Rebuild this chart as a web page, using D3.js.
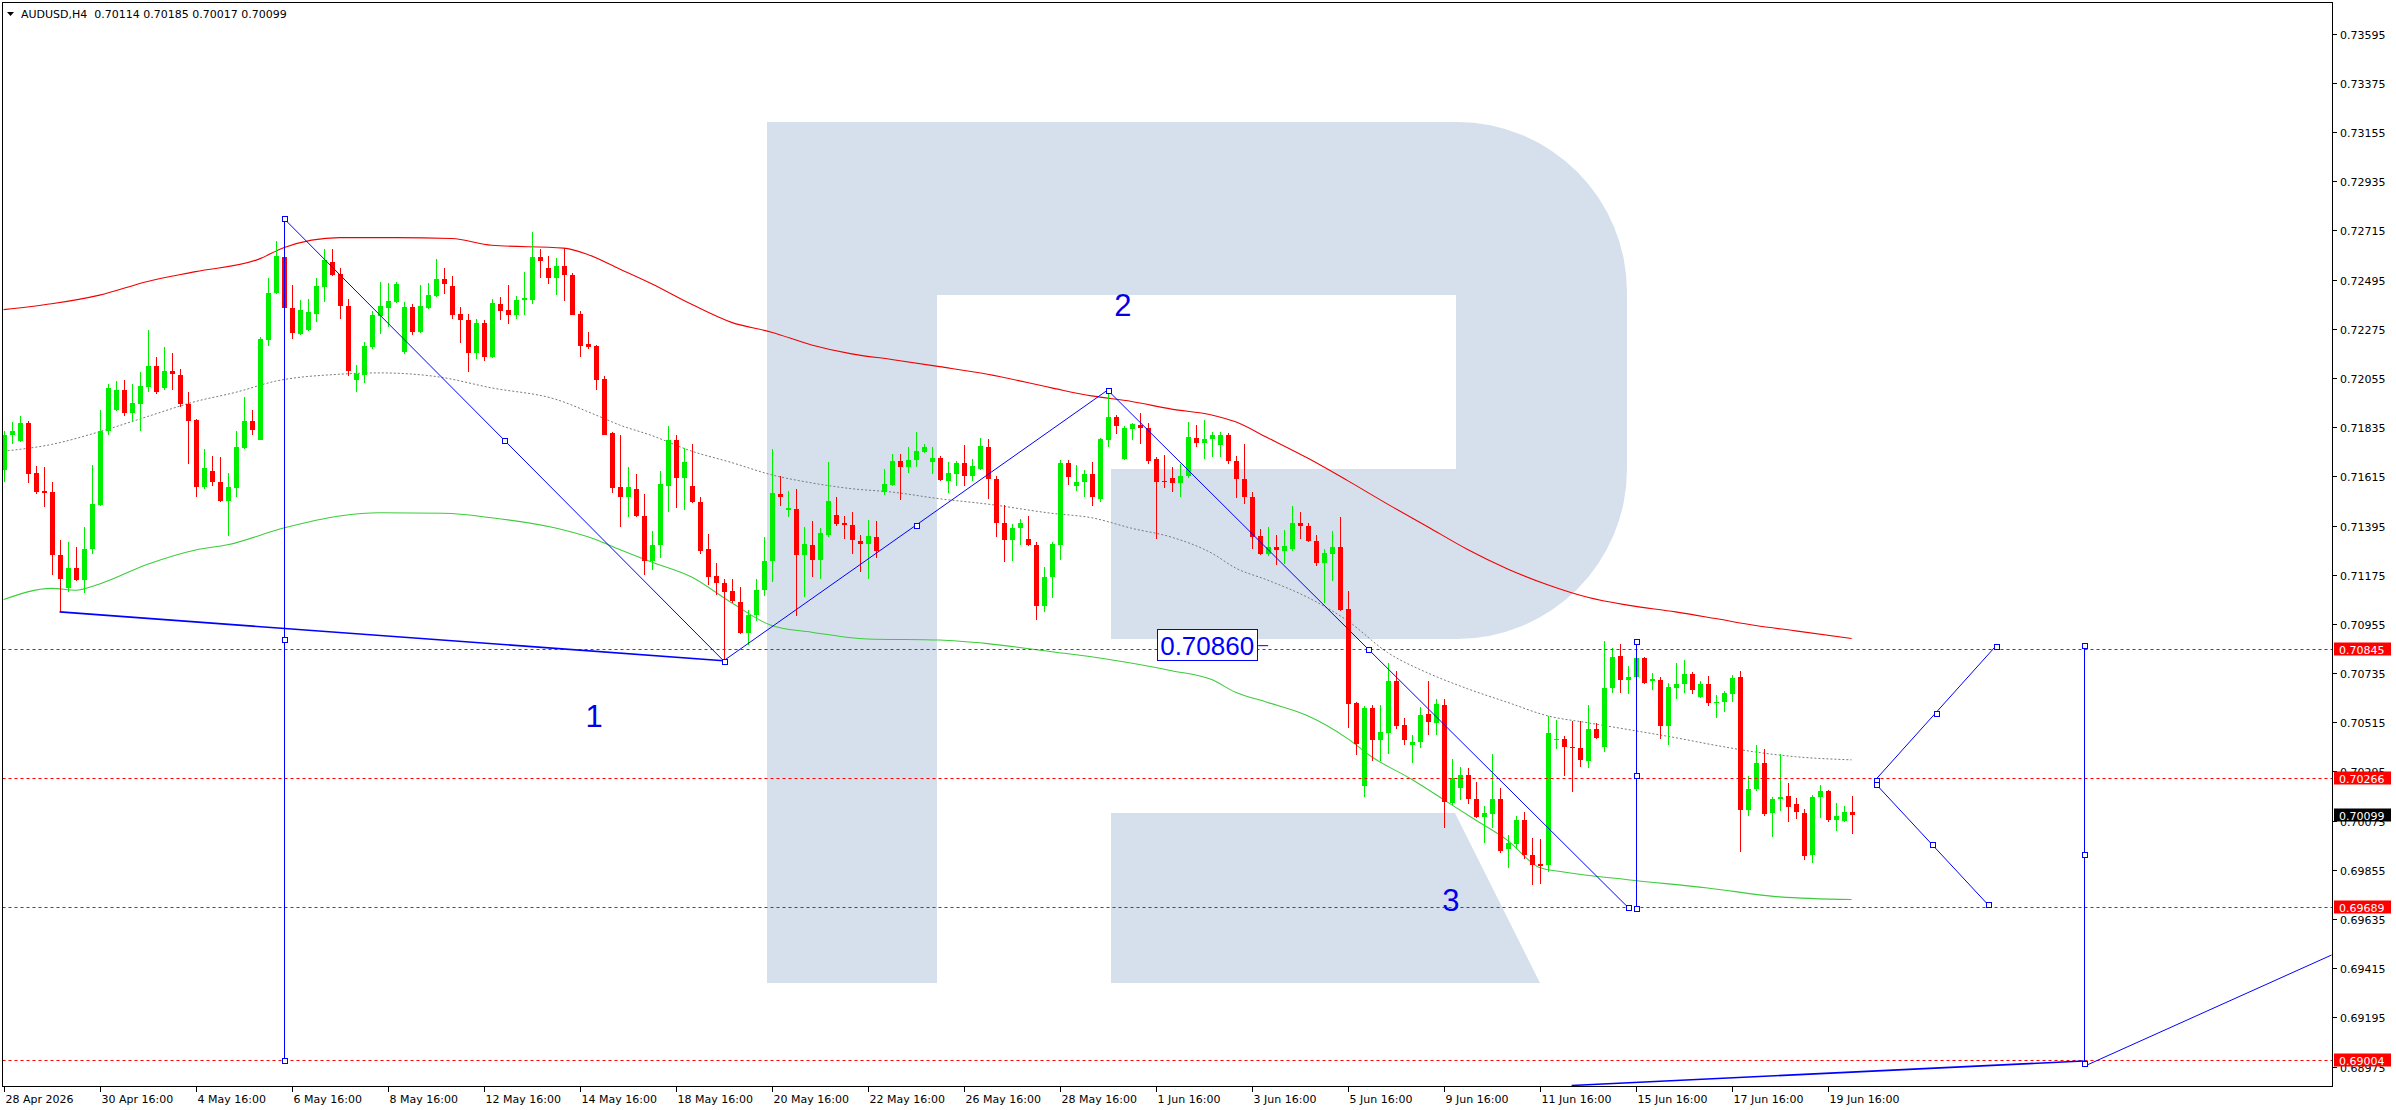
<!DOCTYPE html>
<html><head><meta charset="utf-8">
<script src="https://cdn.jsdelivr.net/npm/d3@7/dist/d3.min.js"></script>
<style>html,body{margin:0;padding:0;background:#fff;overflow:hidden}svg{display:block}</style>
</head><body>
<svg id="c" width="2396" height="1110"></svg>
<script>
// ---------- DATA (AUDUSD H4) ----------
const symbolTitle = "AUDUSD,H4";
const lastBar = ["0.70114","0.70185","0.70017","0.70099"];

const open=[.71643,.71798,.71772,.71855,.71628,.71549,.71545,.71264,.71116,.71207,.71151,.71288,.71489,.71819,.71910,.72001,.71900,.71940,.72017,.72108,.72011,.72086,.72070,.71938,.71867,.71566,.71641,.71590,.71507,.71564,.71744,.71863,.71780,.72226,.72436,.72596,.72367,.72254,.72270,.72343,.72464,.72576,.72519,.72377,.72047,.72068,.72195,.72333,.72367,.72396,.72173,.72371,.72262,.72369,.72422,.72499,.72468,.72341,.72315,.72167,.72300,.72147,.72385,.72359,.72339,.72402,.72406,.72596,.72547,.72503,.72555,.72515,.72341,.72207,.72199,.72051,.71809,.71566,.71521,.71560,.71440,.71238,.71309,.71572,.71778,.71610,.71570,.71501,.71288,.71171,.71139,.71102,.71054,.70916,.70993,.71106,.71238,.71535,.71463,.71471,.71262,.71307,.71242,.71353,.71442,.71408,.71398,.71325,.71313,.71345,.71545,.71576,.71683,.71657,.71687,.71726,.71681,.71697,.71596,.71626,.71677,.71616,.71649,.71746,.71604,.71408,.71329,.71382,.71337,.71309,.71033,.71165,.71309,.71673,.71572,.71592,.71626,.71515,.71778,.71879,.71693,.71829,.71845,.71833,.71693,.71596,.71606,.71586,.71616,.71786,.71764,.71782,.71754,.71802,.71685,.71602,.71523,.71349,.71268,.71298,.71282,.71292,.71408,.71394,.71327,.71228,.71270,.71300,.71023,.70600,.70230,.70580,.70436,.70468,.70699,.70503,.70414,.70426,.70550,.70513,.70594,.70153,.70220,.70280,.70173,.70090,.70106,.70173,.69946,.69971,.70078,.69922,.69880,.69875,.70434,.70442,.70406,.70402,.70341,.70487,.70406,.70669,.70813,.70705,.70716,.70801,.70701,.70705,.70499,.70669,.70685,.70732,.70628,.70685,.70600,.70604,.70641,.70716,.70124,.70216,.70335,.70108,.70173,.70187,.70149,.70108,.69920,.70179,.70209,.70078,.70074,.70114];
const high=[.71819,.71859,.71887,.71863,.71661,.71657,.71590,.71329,.71323,.71300,.71390,.71667,.71910,.72027,.72041,.72045,.72027,.72080,.72270,.72149,.72193,.72167,.72094,.71991,.71873,.71738,.71705,.71701,.71628,.71819,.71970,.71910,.72238,.72501,.72667,.72649,.72470,.72402,.72410,.72501,.72632,.72632,.72547,.72410,.72112,.72217,.72355,.72485,.72481,.72485,.72396,.72385,.72472,.72479,.72588,.72547,.72511,.72371,.72341,.72321,.72315,.72408,.72416,.72472,.72424,.72531,.72707,.72632,.72600,.72592,.72636,.72527,.72357,.72260,.72203,.72064,.71815,.71798,.71657,.71626,.71535,.71369,.71641,.71839,.71802,.71742,.71762,.71523,.71357,.71226,.71155,.71155,.71120,.71019,.71155,.71343,.71738,.71616,.71549,.71560,.71390,.71414,.71384,.71681,.71523,.71440,.71454,.71351,.71418,.71414,.71647,.71717,.71713,.71746,.71813,.71758,.71746,.71707,.71681,.71683,.71754,.71691,.71788,.71784,.71616,.71485,.71404,.71424,.71438,.71323,.71211,.71323,.71687,.71687,.71665,.71643,.71681,.71788,.72001,.71890,.71839,.71855,.71900,.71853,.71703,.71711,.71657,.71671,.71859,.71845,.71869,.71815,.71813,.71807,.71707,.71758,.71543,.71379,.71390,.71353,.71373,.71483,.71454,.71408,.71353,.71292,.71371,.71434,.71104,.70604,.70588,.70594,.70594,.70778,.70746,.70533,.70456,.70584,.70701,.70620,.70618,.70351,.70315,.70309,.70250,.70139,.70371,.70220,.70013,.70098,.70112,.69997,.69991,.70544,.70527,.70452,.70523,.70523,.70594,.70513,.70878,.70847,.70867,.70766,.70884,.70807,.70736,.70716,.70693,.70782,.70792,.70742,.70699,.70722,.70639,.70655,.70726,.70746,.70276,.70412,.70396,.70179,.70371,.70244,.70175,.70128,.70189,.70236,.70214,.70155,.70139,.70185];
const low=[.71592,.71762,.71768,.71586,.71535,.71479,.71175,.71009,.71098,.71145,.71094,.71266,.71483,.71798,.71906,.71887,.71859,.71819,.71991,.71985,.72001,.72001,.71924,.71671,.71525,.71560,.71572,.71501,.71349,.71523,.71738,.71802,.71776,.72199,.72432,.72365,.72230,.72248,.72266,.72304,.72396,.72511,.72319,.72062,.71991,.72031,.72183,.72252,.72284,.72392,.72163,.72248,.72258,.72365,.72416,.72432,.72321,.72211,.72080,.72138,.72132,.72143,.72315,.72298,.72321,.72337,.72385,.72503,.72477,.72426,.72398,.72335,.72151,.72183,.72001,.71798,.71539,.71390,.71434,.71434,.71175,.71195,.71252,.71454,.71475,.71464,.71495,.71268,.71130,.71086,.70790,.71050,.70912,.70861,.70969,.71078,.71141,.71483,.71434,.70989,.71074,.71167,.71155,.71343,.71394,.71337,.71268,.71189,.71155,.71252,.71531,.71572,.71511,.71630,.71657,.71721,.71626,.71596,.71539,.71572,.71572,.71596,.71645,.71515,.71343,.71232,.71236,.71309,.71303,.70973,.71009,.71070,.71242,.71576,.71551,.71523,.71481,.71501,.71748,.71805,.71689,.71778,.71758,.71669,.71333,.71562,.71545,.71521,.71610,.71748,.71693,.71701,.71703,.71671,.71519,.71491,.71292,.71262,.71258,.71220,.71222,.71282,.71337,.71323,.71215,.71050,.71145,.71015,.70489,.70367,.70179,.70341,.70341,.70371,.70483,.70412,.70335,.70402,.70456,.70456,.70042,.70145,.70169,.70149,.70086,.69977,.70044,.69930,.69865,.69950,.69904,.69785,.69791,.69845,.70396,.70276,.70203,.70317,.70311,.70442,.70382,.70645,.70645,.70641,.70711,.70685,.70659,.70442,.70412,.70620,.70645,.70641,.70624,.70588,.70533,.70560,.70604,.69936,.70094,.70209,.70094,.70001,.70118,.70068,.70082,.69900,.69886,.70086,.70068,.70027,.70068,.70017];
const close=[.71798,.71819,.71855,.71624,.71547,.71541,.71262,.71155,.71207,.71151,.71290,.71493,.71819,.72011,.72001,.71900,.71944,.72021,.72108,.71991,.72086,.72072,.71940,.71865,.71566,.71653,.71592,.71507,.71568,.71748,.71863,.71823,.72230,.72436,.72600,.72369,.72258,.72359,.72351,.72466,.72582,.72517,.72375,.72086,.72072,.72199,.72337,.72377,.72400,.72477,.72373,.72260,.72377,.72426,.72499,.72477,.72339,.72313,.72167,.72302,.72147,.72392,.72357,.72339,.72404,.72414,.72596,.72578,.72503,.72555,.72515,.72339,.72199,.72195,.72047,.71802,.71564,.71521,.71566,.71440,.71238,.71309,.71580,.71778,.71610,.71681,.71501,.71282,.71167,.71139,.71100,.71058,.70916,.70993,.71106,.71238,.71541,.71525,.71475,.71262,.71313,.71242,.71363,.71505,.71402,.71396,.71329,.71311,.71349,.71280,.71582,.71683,.71657,.71687,.71730,.71746,.71697,.71600,.71628,.71677,.71616,.71661,.71750,.71602,.71408,.71329,.71386,.71408,.71307,.71033,.71165,.71313,.71673,.71614,.71592,.71626,.71521,.71782,.71879,.71839,.71833,.71849,.71833,.71683,.71592,.71588,.71586,.71616,.71792,.71764,.71782,.71798,.71802,.71683,.71602,.71521,.71343,.71268,.71298,.71286,.71302,.71408,.71394,.71327,.71226,.71272,.71300,.71019,.70598,.70416,.70580,.70436,.70472,.70699,.70499,.70438,.70428,.70548,.70517,.70598,.70159,.70266,.70280,.70173,.70090,.70108,.70173,.69940,.69973,.70078,.69920,.69875,.69873,.70468,.70442,.70406,.70402,.70345,.70487,.70446,.70669,.70807,.70705,.70716,.70801,.70691,.70709,.70499,.70673,.70685,.70730,.70659,.70685,.70600,.70608,.70645,.70711,.70124,.70216,.70335,.70104,.70173,.70183,.70135,.70114,.69916,.70183,.70207,.70078,.70098,.70112,.70099];

// Bollinger-style bands (bar index, value)
const upperIdx=[0,6,12,18,24,32,35,42,49,56,61,70,73,77,81,86,91,96,101,106,111,117,123,131,136,141,146,151,154,158,163,168,173,178,183,188,193,198,203,209,214,219,224,231];
const upperVal=[.72361,.72387,.72426,.72487,.72531,.72588,.72638,.72683,.72683,.72679,.72649,.72636,.72608,.72543,.72477,.72385,.72304,.72260,.72203,.72163,.72138,.72106,.72072,.72011,.71975,.71950,.71916,.71890,.71859,.71788,.71697,.71596,.71491,.71390,.71288,.71201,.71130,.71074,.71039,.71009,.70979,.70948,.70924,.70890];
const middleIdx=[0,6,12,18,24,29,34,42,47,54,61,69,74,77,81,86,91,96,101,106,111,117,123,131,136,141,146,151,154,158,163,168,173,178,183,188,193,198,203,209,214,219,224,231];
const middleVal=[.71728,.71758,.71815,.71883,.71950,.71991,.72041,.72072,.72078,.72062,.72011,.71960,.71890,.71845,.71798,.71728,.71677,.71622,.71586,.71560,.71545,.71515,.71491,.71450,.71430,.71383,.71343,.71272,.71205,.71151,.71074,.70969,.70827,.70736,.70665,.70604,.70544,.70513,.70483,.70446,.70412,.70382,.70361,.70347];
const lowerIdx=[0,6,9,12,18,24,28,35,42,47,55,61,69,74,77,81,86,91,96,101,108,117,123,131,138,146,151,154,158,163,168,171,176,180,184,188,192,195,203,213,222,231];
const lowerVal=[.71064,.71114,.71106,.71134,.71222,.71286,.71309,.71384,.71438,.71452,.71450,.71430,.71384,.71333,.71288,.71232,.71165,.71050,.70948,.70918,.70888,.70883,.70867,.70831,.70797,.70746,.70706,.70649,.70604,.70544,.70442,.70361,.70260,.70169,.70078,.69987,.69865,.69845,.69811,.69774,.69734,.69722];

// Wave drawing objects
const waveIdx=[35,90,138,203];
const wavePrice=[.72770,.70790,.72001,.69689];
const trendA=[[7,.71009],[90,.70790]];
const trendB=[[196,.68890],[260,.69000]];
const trendC=[[260,.68975],[291,.69474]];
const vLines=[[35,.72770,.69004],[204,.70878,.69683],[260,.70859,.68989]];
const projUp=[[234,.70258],[249,.70855]];
const projDown=[[234,.70240],[248,.69701]];
const waveLabels=["1","2","3"];
const waveLabelIdx=[73.8,139.9,180.9];
const waveLabelPrice=[.70543,.72381,.69720];
const priceTag={text:"0.70860", idx:144.2, price:0.70860};

// Levels
const levelPrices=[0.70845,0.70266,0.69689,0.69004];
const levelLabels=["0.70845","0.70266","0.69689","0.69004"];
const currentPrice=0.70099, currentLabel="0.70099";

// Axis tick labels
const yTickLabels=["0.73595","0.73375","0.73155","0.72935","0.72715","0.72495","0.72275","0.72055","0.71835","0.71615","0.71395","0.71175","0.70955","0.70735","0.70515","0.70295","0.70075","0.69855","0.69635","0.69415","0.69195","0.68975"];
const xLabels=["28 Apr 2026","30 Apr 16:00","4 May 16:00","6 May 16:00","8 May 16:00","12 May 16:00","14 May 16:00","18 May 16:00","20 May 16:00","22 May 16:00","26 May 16:00","28 May 16:00","1 Jun 16:00","3 Jun 16:00","5 Jun 16:00","9 Jun 16:00","11 Jun 16:00","15 Jun 16:00","17 Jun 16:00","19 Jun 16:00"];
const barsPerLabel=12;

// ---------- DRAW ----------
const svg=d3.select("#c");
const L=2.5,T=2.5,R=2332.5,B=1086.5;
const x=d3.scaleLinear().domain([0,291]).range([3.6,3.6+8*291]);
const y=d3.scaleLinear().domain([0.68888,0.73734]).range([1086,2.7]);
const FONT="'DejaVu Sans', Verdana, sans-serif";
const BLUE="#0000ff", RED="#ff0000", GREEN="#00ee00";

svg.append("rect").attr("width",2396).attr("height",1110).attr("fill","#fff");
svg.append("defs").append("clipPath").attr("id","plot").append("rect")
  .attr("x",L).attr("y",T).attr("width",R-L).attr("height",B-T);
const g=svg.append("g").attr("clip-path","url(#plot)");

// watermark logo
const wm=g.append("g");
const wmc="#d5e0ec";
const r=170, bx0=767, bx1=1627, by0=122, by1=639;
wm.append("path").attr("fill",wmc).attr("d",
  `M${bx0},${by0}H${bx1-r}A${r},${r} 0 0 1 ${bx1},${by0+r}V${by1-r}A${r},${r} 0 0 1 ${bx1-r},${by1}H937V983H${bx0}Z`);
wm.append("rect").attr("x",937).attr("y",295).attr("width",1456-937).attr("height",469-295).attr("fill","#fff");
wm.append("rect").attr("x",937).attr("y",469).attr("width",1111-937).attr("height",by1-469+0.5).attr("fill","#fff");
wm.append("path").attr("fill",wmc).attr("d","M1111,813H1455L1540,983H1111Z");

// bands
const line=d3.line().x(d=>x(d[0])).y(d=>y(d[1])).curve(d3.curveMonotoneX);
g.append("path").attr("d",line(upperIdx.map((v,i)=>[v,upperVal[i]]))).attr("fill","none").attr("stroke","#f00000").attr("stroke-width",1.1);
g.append("path").attr("d",line(middleIdx.map((v,i)=>[v,middleVal[i]]))).attr("fill","none").attr("stroke","#7a7a7a").attr("stroke-width",1).attr("stroke-dasharray","2,2");
g.append("path").attr("d",line(lowerIdx.map((v,i)=>[v,lowerVal[i]]))).attr("fill","none").attr("stroke","#3ccc3c").attr("stroke-width",1.05);

// candles
const cg=g.append("g").attr("shape-rendering","crispEdges");
open.forEach((o,i)=>{
  const c=close[i], up=c>=o, col=up?GREEN:RED;
  const cx=Math.round(x(i));
  cg.append("line").attr("x1",cx+0.5).attr("x2",cx+0.5).attr("y1",y(high[i])).attr("y2",y(low[i])).attr("stroke",col).attr("stroke-width",1);
  const y1=y(Math.max(o,c)), y2=y(Math.min(o,c));
  cg.append("rect").attr("x",cx-2).attr("width",5).attr("y",y1).attr("height",Math.max(1,y2-y1)).attr("fill",col);
});

// horizontal levels
levelPrices.forEach(p=>{
  g.append("line").attr("x1",L).attr("x2",R).attr("y1",Math.round(y(p))+0.5).attr("y2",Math.round(y(p))+0.5)
   .attr("stroke",RED).attr("stroke-width",1).attr("stroke-dasharray","3,3");
});

// blue objects
const og=g.append("g");
function seg(a,b,w){og.append("line").attr("x1",x(a[0])).attr("y1",y(a[1])).attr("x2",x(b[0])).attr("y2",y(b[1])).attr("stroke",BLUE).attr("stroke-width",w||1);}
const marks=[];
function mark(p){marks.push(p);}
seg(trendA[0],trendA[1],1.6);
seg(trendB[0],trendB[1],1.6);
seg(trendC[0],trendC[1],1);
for(let k=0;k<waveIdx.length-1;k++){
  const a=[waveIdx[k],wavePrice[k]], b=[waveIdx[k+1],wavePrice[k+1]];
  seg(a,b,1); mark(a); mark([(a[0]+b[0])/2,(a[1]+b[1])/2]); mark(b);
}
vLines.forEach(v=>{
  og.append("line").attr("x1",Math.round(x(v[0]))+0.5).attr("x2",Math.round(x(v[0]))+0.5).attr("y1",y(v[1])).attr("y2",y(v[2])).attr("stroke",BLUE).attr("stroke-width",1);
  mark([v[0],v[1]]); mark([v[0],(v[1]+v[2])/2]); mark([v[0],v[2]]);
});
[projUp,projDown].forEach(pr=>{
  seg(pr[0],pr[1],1); mark(pr[0]); mark([(pr[0][0]+pr[1][0])/2,(pr[0][1]+pr[1][1])/2]); mark(pr[1]);
});
marks.forEach(p=>{
  og.append("rect").attr("x",Math.round(x(p[0]))-2).attr("y",Math.round(y(p[1]))-2).attr("width",5).attr("height",5)
    .attr("fill","#fff").attr("stroke",BLUE).attr("stroke-width",1).attr("shape-rendering","crispEdges");
});
// wave labels
waveLabels.forEach((t,k)=>{
  og.append("text").attr("x",x(waveLabelIdx[k])).attr("y",y(waveLabelPrice[k])+11).attr("text-anchor","middle")
   .attr("font-family","'Liberation Sans', Arial, sans-serif").attr("font-size",31).attr("fill","#0000e8").text(t);
});
// price tag 0.70860
{
  const tx=x(priceTag.idx), ty=y(priceTag.price);
  og.append("line").attr("x1",tx+101).attr("x2",tx+111).attr("y1",ty+0.5).attr("y2",ty+0.5).attr("stroke",BLUE);
  og.append("rect").attr("x",Math.round(tx)+0.5).attr("y",Math.round(ty-16)+0.5).attr("width",100).attr("height",31)
    .attr("fill","#fff").attr("stroke",BLUE).attr("stroke-width",1);
  og.append("text").attr("x",tx+3).attr("y",ty+9.5).attr("font-family","'Liberation Sans', Arial, sans-serif")
    .attr("font-size",26).attr("fill",BLUE).text(priceTag.text);
}

// frame
svg.append("rect").attr("x",L).attr("y",T).attr("width",R-L).attr("height",B-T).attr("fill","none").attr("stroke","#000").attr("stroke-width",1).attr("shape-rendering","crispEdges");

// header
svg.append("path").attr("d","M7,12H14L10.5,16Z").attr("fill","#000");
svg.append("text").attr("x",21).attr("y",18).attr("font-family",FONT).attr("font-size",11).attr("fill","#000")
  .style("white-space","pre").text(symbolTitle+"  "+lastBar.join(" "));

// y axis
const ya=svg.append("g");
yTickLabels.forEach(t=>{
  const v=+t, yy=Math.round(y(v))+0.5;
  ya.append("line").attr("x1",R).attr("x2",R+4).attr("y1",yy).attr("y2",yy).attr("stroke","#000").attr("shape-rendering","crispEdges");
  ya.append("text").attr("x",2340).attr("y",yy+4).attr("font-family",FONT).attr("font-size",11).attr("fill","#000").text(t);
});
function tag(p,label,bg){
  const yy=Math.round(y(p));
  ya.append("rect").attr("x",2334).attr("y",yy-6.5).attr("width",57).attr("height",13).attr("fill",bg);
  ya.append("text").attr("x",2339).attr("y",yy+4.5).attr("font-family",FONT).attr("font-size",11).attr("fill","#fff").text(label);
}
levelPrices.forEach((p,k)=>tag(p,levelLabels[k],RED));
tag(currentPrice,currentLabel,"#000");

// x axis
const xa=svg.append("g");
xLabels.forEach((t,k)=>{
  const xx=Math.round(x(k*barsPerLabel))+0.5;
  xa.append("line").attr("x1",xx).attr("x2",xx).attr("y1",B).attr("y2",B+5).attr("stroke","#000").attr("shape-rendering","crispEdges");
  xa.append("text").attr("x",xx+1).attr("y",1103).attr("font-family",FONT).attr("font-size",11).attr("fill","#000").text(t);
});
</script>
</body></html>
